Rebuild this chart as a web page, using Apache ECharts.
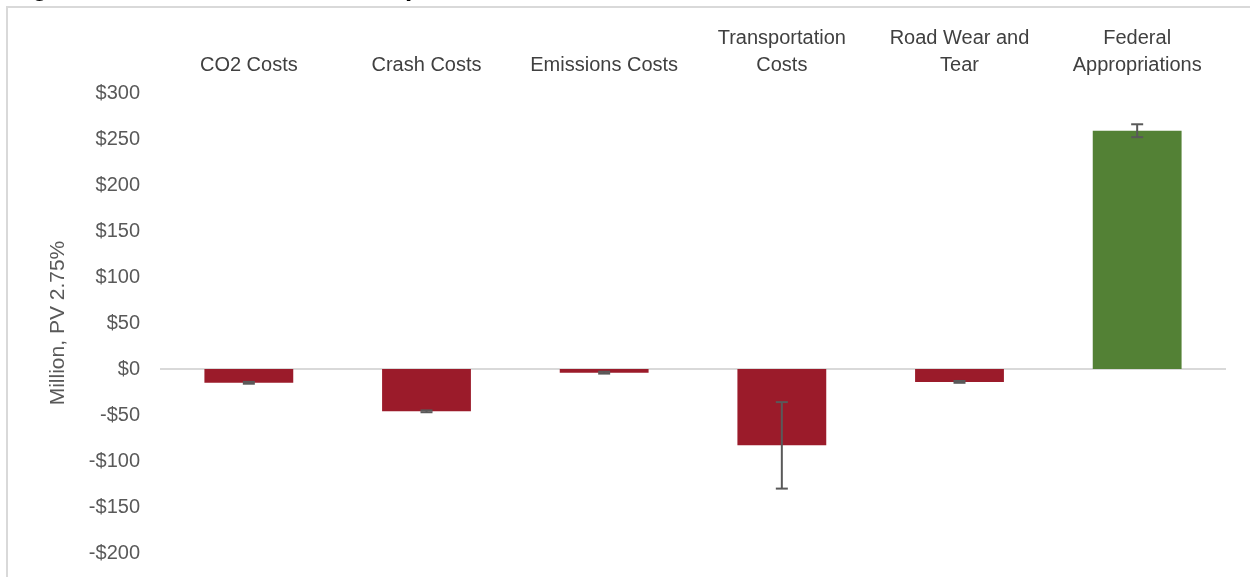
<!DOCTYPE html>
<html>
<head>
<meta charset="utf-8">
<script src="https://cdn.jsdelivr.net/npm/echarts@6/dist/echarts.min.js"></script>
<style>
html, body { margin: 0; padding: 0; background: #fff; }
#idChart { width: 1250px; height: 577px; }
</style>
</head>
<body>
<div id="idChart"></div>
<script>
var categories = ['CO2 Costs', 'Crash Costs', 'Emissions Costs', 'Transportation\nCosts', 'Road Wear and\nTear', 'Federal\nAppropriations'];
var values = [-15, -46, -4, -83, -14, 259];
var errLow = [-16, -47, -5, -130, -15, 252];
var errHigh = [-14, -45, -3, -36, -13, 266];
var barColors = ['#9b1b2a', '#9b1b2a', '#9b1b2a', '#9b1b2a', '#9b1b2a', '#538135'];

var myChart = echarts.init(document.getElementById('idChart'));

var barData = [];
var errData = [];
for (var i = 0; i < categories.length; i++) {
    barData.push({ value: values[i], itemStyle: { color: barColors[i] } });
    errData.push([i, errLow[i], errHigh[i]]);
}

var Options = {
    animation: false,
    textStyle: { fontFamily: 'Liberation Sans' },
    graphic: [
        {
            type: 'rect',
            shape: { x: 7, y: 7, width: 1400, height: 800 },
            style: { fill: 'none', stroke: '#d9d9d9', lineWidth: 2 },
            silent: true
        },
        {
            type: 'text',
            left: 9,
            top: -24,
            style: {
                text: 'Figure 3: Present Value of Transportation Benefits and Costs, 2025-2054',
                font: 'bold 26px "Liberation Sans"',
                fill: '#000'
            },
            silent: true
        }
    ],
    grid: { left: 160, right: 24, top: 93, bottom: 24 },
    xAxis: {
        type: 'category',
        position: 'top',
        data: categories,
        axisLine: { show: false },
        axisTick: { show: false },
        splitLine: { show: false },
        axisLabel: {
            interval: 0,
            margin: 14,
            color: '#404040',
            fontSize: 20,
            lineHeight: 27,
            fontFamily: 'Liberation Sans'
        }
    },
    yAxis: {
        type: 'value',
        min: -200,
        max: 300,
        interval: 50,
        name: 'Million, PV 2.75%',
        nameLocation: 'middle',
        nameGap: 91,
        nameTextStyle: { color: '#595959', fontSize: 21, fontFamily: 'Liberation Sans' },
        axisLine: { show: false },
        axisTick: { show: false },
        splitLine: { show: false },
        axisLabel: {
            margin: 20,
            color: '#595959',
            fontSize: 20,
            fontFamily: 'Liberation Sans',
            formatter: function (v) {
                return v < 0 ? '-$' + (-v) : '$' + v;
            }
        }
    },
    series: [
        {
            type: 'bar',
            barWidth: '50%',
            data: barData,
            z: 3,
            markLine: {
                silent: true,
                symbol: 'none',
                label: { show: false },
                lineStyle: { color: '#d9d9d9', width: 2, type: 'solid' },
                z: 1,
                data: [{ yAxis: 0 }]
            }
        },
        {
            type: 'custom',
            z: 5,
            encode: { x: 0, y: [1, 2] },
            data: errData,
            renderItem: function (params, api) {
                var lo = api.coord([api.value(0), api.value(1)]);
                var hi = api.coord([api.value(0), api.value(2)]);
                var w = 6;
                var st = { stroke: '#595959', lineWidth: 2 };
                return {
                    type: 'group',
                    children: [
                        { type: 'line', shape: { x1: lo[0], y1: lo[1], x2: hi[0], y2: hi[1] }, style: st },
                        { type: 'line', shape: { x1: lo[0] - w, y1: lo[1], x2: lo[0] + w, y2: lo[1] }, style: st },
                        { type: 'line', shape: { x1: hi[0] - w, y1: hi[1], x2: hi[0] + w, y2: hi[1] }, style: st }
                    ]
                };
            }
        }
    ]
};

myChart.setOption(Options);
</script>
</body>
</html>
